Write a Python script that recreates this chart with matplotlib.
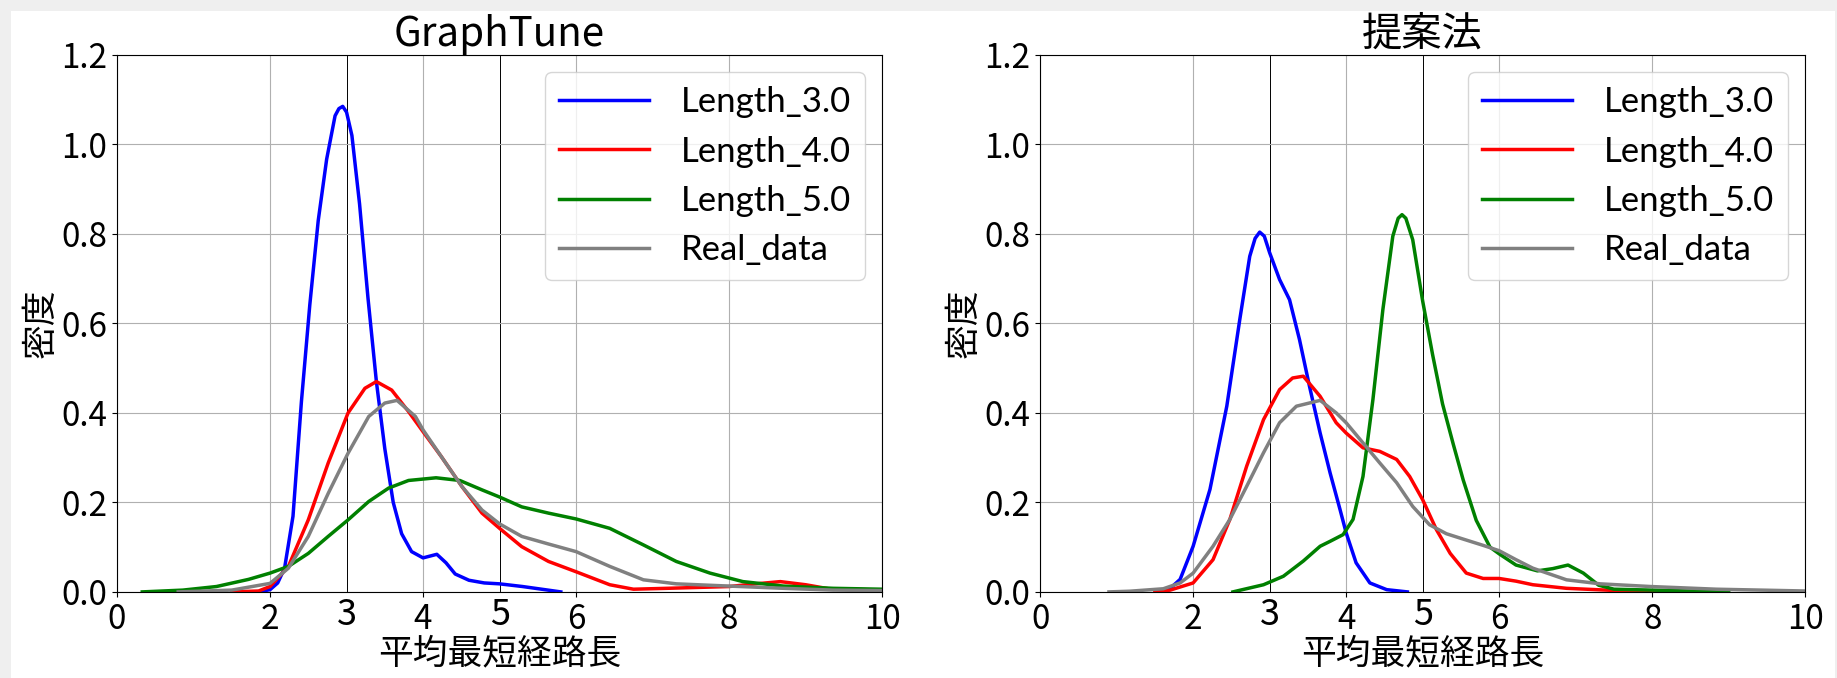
import matplotlib
matplotlib.use("Agg")
import matplotlib.pyplot as plt
from matplotlib.patches import Rectangle

plt.rcParams['font.family'] = ['Noto Sans CJK JP', 'DejaVu Sans']

# ----------- GraphTune -----------
gt_len3_x = [1.85, 2.0, 2.1, 2.19, 2.3, 2.41, 2.52, 2.63, 2.74, 2.85, 2.9, 2.95, 3.0, 3.07, 3.17, 3.28,
             3.39, 3.5, 3.61, 3.72, 3.85, 4.0, 4.18, 4.3, 4.42, 4.6, 4.8, 5.0, 5.3, 5.55, 5.8]
gt_len3_y = [0.0, 0.005, 0.02, 0.053, 0.169, 0.425, 0.642, 0.83, 0.967, 1.064, 1.08, 1.085, 1.072, 1.02, 0.867, 0.657,
             0.47, 0.32, 0.2, 0.13, 0.09, 0.076, 0.084, 0.065, 0.04, 0.026, 0.02, 0.018, 0.012, 0.006, 0.0]

gt_len4_x = [1.5, 1.85, 2.0, 2.24, 2.5, 2.76, 3.02, 3.24, 3.39, 3.59, 3.81, 4.0, 4.24, 4.51, 4.77,
             5.0, 5.29, 5.64, 6.0, 6.44, 6.75, 7.19, 7.6, 8.0, 8.35, 8.67, 9.0, 9.3, 10.0]
gt_len4_y = [0.0, 0.002, 0.012, 0.057, 0.161, 0.288, 0.40, 0.455, 0.47, 0.451, 0.403, 0.358, 0.302, 0.235, 0.176,
             0.142, 0.101, 0.068, 0.045, 0.016, 0.006, 0.008, 0.01, 0.012, 0.018, 0.023, 0.016, 0.007, 0.004]

gt_len5_x = [0.33, 0.86, 1.3, 1.72, 2.0, 2.24, 2.5, 2.76, 3.02, 3.29, 3.55, 3.81, 4.17, 4.48, 4.77,
             5.0, 5.29, 5.64, 6.0, 6.44, 6.88, 7.31, 7.75, 8.18, 8.71, 9.36, 10.0]
gt_len5_y = [0.0, 0.004, 0.012, 0.028, 0.042, 0.057, 0.086, 0.124, 0.161, 0.202, 0.232, 0.249, 0.255, 0.249, 0.228,
             0.212, 0.19, 0.176, 0.163, 0.142, 0.105, 0.068, 0.042, 0.023, 0.013, 0.008, 0.006]

gt_real_x = [0.8, 1.5, 2.0, 2.24, 2.5, 2.76, 3.02, 3.29, 3.5, 3.66, 3.9, 4.0, 4.24, 4.51, 4.77,
             5.0, 5.29, 5.64, 6.0, 6.44, 6.88, 7.31, 8.0, 8.71, 9.36, 10.0]
gt_real_y = [0.0, 0.004, 0.019, 0.053, 0.124, 0.22, 0.31, 0.392, 0.422, 0.428, 0.392, 0.362, 0.302, 0.235, 0.183,
             0.152, 0.124, 0.107, 0.09, 0.057, 0.027, 0.018, 0.013, 0.008, 0.004, 0.003]

# ----------- 提案法 -----------
pr_len3_x = [1.65, 1.83, 2.0, 2.22, 2.44, 2.61, 2.74, 2.81, 2.87, 2.93, 3.0, 3.13, 3.26, 3.39, 3.52, 3.66,
             3.79, 3.92, 4.0, 4.13, 4.31, 4.53, 4.8]
pr_len3_y = [0.0, 0.028, 0.102, 0.229, 0.415, 0.609, 0.75, 0.79, 0.804, 0.795, 0.758, 0.698, 0.653, 0.564, 0.46, 0.355,
             0.266, 0.184, 0.132, 0.065, 0.02, 0.005, 0.0]

pr_len4_x = [1.5, 1.7, 2.0, 2.26, 2.48, 2.7, 2.92, 3.13, 3.3, 3.44, 3.66, 3.87, 4.0, 4.22, 4.44,
             4.66, 4.83, 5.0, 5.18, 5.36, 5.57, 5.79, 6.0, 6.22, 6.44, 6.88, 7.53, 8.18, 8.6]
pr_len4_y = [0.0, 0.004, 0.02, 0.072, 0.162, 0.281, 0.385, 0.452, 0.478, 0.482, 0.437, 0.378, 0.355, 0.322, 0.314,
             0.296, 0.258, 0.206, 0.139, 0.086, 0.042, 0.03, 0.03, 0.024, 0.016, 0.008, 0.003, 0.0015, 0.0]

pr_len5_x = [2.52, 2.92, 3.18, 3.44, 3.66, 3.79, 3.96, 4.09, 4.22, 4.35, 4.48, 4.61, 4.68, 4.73, 4.78, 4.87, 5.0,
             5.13, 5.26, 5.4, 5.53, 5.7, 5.88, 6.0, 6.22, 6.5, 6.7, 6.9, 7.1, 7.3, 7.5, 8.0, 8.6, 9.0]
pr_len5_y = [0.0, 0.016, 0.035, 0.069, 0.102, 0.113, 0.128, 0.162, 0.258, 0.43, 0.631, 0.795, 0.835, 0.843, 0.835, 0.787, 0.65,
             0.53, 0.42, 0.33, 0.25, 0.16, 0.10, 0.085, 0.06, 0.047, 0.052, 0.06, 0.042, 0.015, 0.006, 0.004, 0.0015, 0.0]

pr_real_x = [0.9, 1.17, 1.61, 1.83, 2.0, 2.26, 2.48, 2.7, 2.92, 3.13, 3.35, 3.66, 3.87, 4.0, 4.22,
             4.44, 4.66, 4.87, 5.09, 5.31, 5.53, 5.79, 6.0, 6.22, 6.44, 6.88, 7.32, 7.98, 8.84, 10.0]
pr_real_y = [0.0, 0.0015, 0.007, 0.02, 0.042, 0.102, 0.162, 0.236, 0.311, 0.378, 0.415, 0.428, 0.4, 0.378, 0.333,
             0.288, 0.244, 0.191, 0.15, 0.13, 0.118, 0.104, 0.092, 0.072, 0.053, 0.027, 0.018, 0.012, 0.006, 0.002]

titres = ["GraphTune", "提案法"]
etiquettes = ["Length_3.0", "Length_4.0", "Length_5.0", "Real_data"]
couleurs = ["blue", "red", "green", "gray"]
lignes_ref = [3, 4, 5]

donnees = [
    [(gt_len3_x, gt_len3_y), (gt_len4_x, gt_len4_y), (gt_len5_x, gt_len5_y), (gt_real_x, gt_real_y)],
    [(pr_len3_x, pr_len3_y), (pr_len4_x, pr_len4_y), (pr_len5_x, pr_len5_y), (pr_real_x, pr_real_y)],
]

fig = plt.figure(figsize=(18.37, 6.78), dpi=100)
fig.patch.set_facecolor('#efefef')
fig.patches.append(Rectangle((11 / 1837, 0), 1824 / 1837, 1 - 11 / 678,
                             transform=fig.transFigure, facecolor='white', edgecolor='none', zorder=-10))

positions = [[0.0637, 0.127, 0.4165, 0.792], [0.5662, 0.127, 0.4165, 0.792]]

for i in range(2):
    ax = fig.add_axes(positions[i])
    for (xs, ys), lab, col in zip(donnees[i], etiquettes, couleurs):
        ax.plot(xs, ys, color=col, lw=2.5, label=lab)
    for v in lignes_ref:
        ax.axvline(v, color='black', lw=0.7, zorder=1)
    ax.set_xlim(0, 10)
    ax.set_ylim(0, 1.2)
    ax.set_xticks([0, 2, 4, 6, 8, 10])
    ax.set_xticks([3, 5], minor=True)
    ax.set_xticklabels(['3', '5'], minor=True, fontsize=26)
    ax.set_yticks([0.0, 0.2, 0.4, 0.6, 0.8, 1.0, 1.2])
    ax.tick_params(axis='both', which='major', labelsize=24)
    ax.tick_params(axis='x', which='minor', length=0)
    ax.grid(True, which='major', color='#b0b0b0', lw=0.8)
    ax.set_title(titres[i], fontsize=29, pad=5)
    ax.set_xlabel("平均最短経路長", fontsize=25, labelpad=0)
    ax.set_ylabel("密度", fontsize=25, labelpad=2)
    ax.legend(loc='upper right', handlelength=2.6, handletextpad=0.9,
              prop={'family': ['Lato', 'DejaVu Sans'], 'size': 25})

fig.savefig("out.png", dpi=100, facecolor=fig.get_facecolor())
